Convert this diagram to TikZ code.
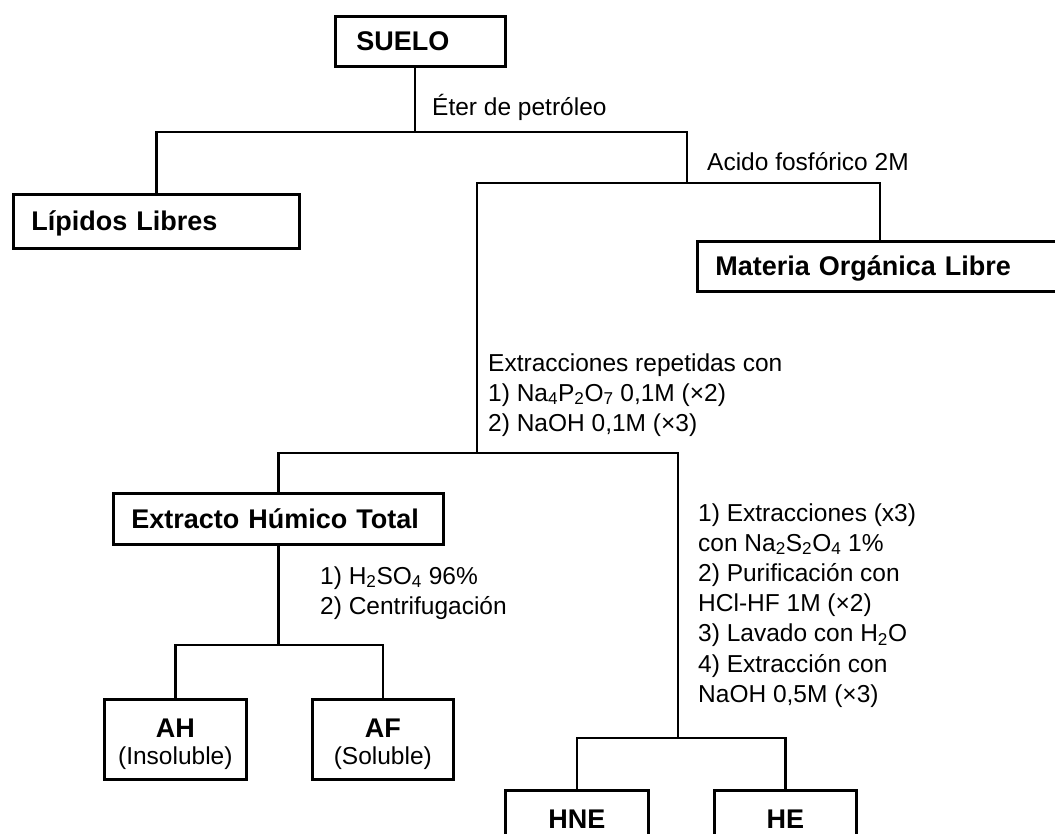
\documentclass[tikz,border=0pt]{standalone}
\usepackage{fontspec}
\setmainfont{Liberation Sans}
\newcommand{\sbs}[1]{\textsubscript{#1}}
\tikzset{
  box/.style={draw, line width=2.6pt, anchor=north west, inner ysep=0pt, align=left,
    font=\fontsize{27}{30}\selectfont\bfseries, text height=19.4pt, text depth=0pt},
  cbox/.style={draw, line width=2.6pt, anchor=north west, inner sep=0pt, align=center},
  lbl/.style={anchor=base west, inner sep=0pt, font=\fontsize{24.5}{30}\selectfont},
  conn/.style={line width=2.6pt}
}
\begin{document}
\begin{tikzpicture}[x=1pt, y=-1pt]
\useasboundingbox (0,0) rectangle (1055,834);
% boxes
\node[box, text width=128pt, inner xsep=21pt, minimum height=50pt] (suelo) at (334,15) {SUELO};
\node[box, text width=250pt, inner xsep=18pt, minimum height=54pt] (lipidos) at (12,193) {Lípidos Libres};
\node[box, text width=344pt, inner xsep=18pt, minimum height=50pt] (materia) at (696,240) {Materia Orgánica Libre};
\node[box, text width=294pt, inner xsep=18pt, minimum height=51pt] (extracto) at (112,492) {Extracto Húmico Total};
\node[cbox, minimum width=142pt, minimum height=80pt, font=\fontsize{24.5}{27}\selectfont] (ah) at (103,698)
  {\rule{0pt}{29pt}{\bfseries\fontsize{27}{27}\selectfont AH}\\(Insoluble)};
\node[cbox, minimum width=141pt, minimum height=80pt, font=\fontsize{24.5}{27}\selectfont] (af) at (311,698)
  {\rule{0pt}{29pt}{\bfseries\fontsize{27}{27}\selectfont AF}\\(Soluble)};
\node[cbox, minimum width=143pt, minimum height=56pt, font=\fontsize{27}{30}\selectfont\bfseries, text height=19.4pt, text depth=0pt] (hne) at (504,789) {HNE};
\node[cbox, minimum width=142pt, minimum height=56pt, font=\fontsize{27}{30}\selectfont\bfseries, text height=19.4pt, text depth=0pt] (he) at (713,789) {HE};
% junctions
\coordinate (j1) at (415,132);
\coordinate (hR) at (687,132);
\coordinate (j2) at (687,183);
\coordinate (h2R) at (880,183);
\coordinate (j3) at (477,453);
\coordinate (j5t) at (678,453);
\coordinate (j5) at (678,738);
\coordinate (j4) at (277,645);
% connectors
\draw[conn] (suelo.south -| j1) -- (j1);
\draw[conn] (lipidos.north) |- (hR) -- (j2);
\draw[conn] (j3) |- (h2R) -- (h2R |- materia.north);
\draw[conn] (extracto.north) |- (j5t) -- (j5);
\draw[conn] (extracto.south) -- (extracto.south |- j4);
\draw[conn] (ah.north) |- (j4) -| (af.north);
\draw[conn] (hne.north) |- (j5) -| (he.north);
% labels
\node[lbl] (eter) at (432,116) {Éter de petróleo};
\node[lbl] (acido) at (707,171) {Acido fosfórico 2M};
\node[lbl] (ex1) at (488,371) {Extracciones repetidas con};
\node[lbl] (ex2) at (488,401) {1) Na\sbs{4}P\sbs{2}O\sbs{7} 0,1M (×2)};
\node[lbl] (ex3) at (488,431) {2) NaOH 0,1M (×3)};
\node[lbl] (hs1) at (320,584) {1) H\sbs{2}SO\sbs{4} 96\%};
\node[lbl] (hs2) at (320,614) {2) Centrifugación};
\node[lbl] (r1) at (698,521) {1) Extracciones (x3)};
\node[lbl] (r2) at (698,551.2) {con Na\sbs{2}S\sbs{2}O\sbs{4} 1\%};
\node[lbl] (r3) at (698,581.4) {2) Purificación con};
\node[lbl] (r4) at (698,611.6) {HCl-HF 1M (×2)};
\node[lbl] (r5) at (698,641.8) {3) Lavado con H\sbs{2}O};
\node[lbl] (r6) at (698,672) {4) Extracción con};
\node[lbl] (r7) at (698,702.2) {NaOH 0,5M (×3)};
\end{tikzpicture}
\end{document}
